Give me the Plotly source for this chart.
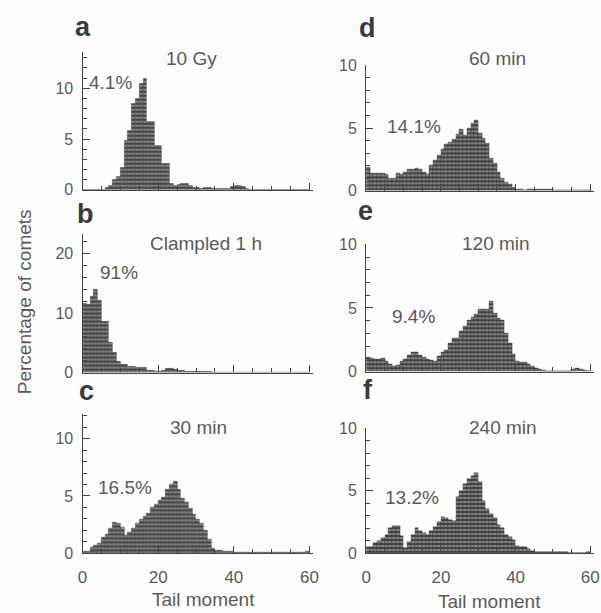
import numpy as np
import plotly.graph_objects as go

W, H = 601, 613

# Bin centres (tail moment, bin width 1)
bins = [i + 0.5 for i in range(60)]

# Percentage of comets per bin
a_10gy = [0, 0, 0, 0, 0, 0, 0.2, 0.4, 1.0, 1.3, 2.2, 4.8, 5.8, 8.5, 9.0, 10.4, 10.9, 6.7, 6.7, 4.3,
          4.3, 2.6, 2.6, 0.6, 0.4, 0.5, 0.6, 0.6, 0.4, 0.2, 0.2, 0.1, 0.2, 0.2, 0.1, 0.1, 0.1, 0.1, 0.1, 0.3,
          0.4, 0.4, 0.3, 0.1, 0, 0, 0, 0, 0, 0, 0, 0, 0, 0, 0, 0, 0, 0, 0, 0]
b_clamped = [11.7, 11.4, 12.8, 13.9, 12.2, 8.6, 8.6, 5.0, 3.3, 1.9, 1.4, 1.4, 1.1, 1.1, 0.9, 0.9, 0.9, 0.4, 0.4, 0.1,
             0.1, 0.3, 0.6, 0.6, 0.5, 0.3, 0.3, 0.2, 0.1, 0.1, 0.1, 0.1, 0.1, 0.1, 0, 0, 0, 0, 0, 0,
             0, 0, 0, 0, 0, 0, 0, 0, 0, 0, 0, 0, 0, 0, 0, 0, 0, 0, 0, 0]
c_30min = [0.15, 0.15, 0.5, 0.7, 0.9, 1.4, 1.7, 2.2, 2.7, 2.6, 2.3, 1.6, 1.8, 2.2, 2.6, 3.0, 3.2, 3.5, 4.0, 4.3,
           4.6, 4.9, 5.6, 6.0, 6.3, 5.6, 4.8, 4.4, 3.9, 3.4, 3.0, 2.6, 2.0, 1.2, 0.4, 0.3, 0.25, 0.2, 0.2, 0.15,
           0.1, 0.05, 0.05, 0.05, 0.05, 0.05, 0.05, 0.05, 0.05, 0.05, 0.05, 0.05, 0.05, 0.05, 0.05, 0.05, 0.05, 0.05, 0.05, 0.2]
d_60min = [1.9, 1.4, 1.4, 1.4, 1.4, 1.3, 1.0, 1.0, 1.4, 1.3, 1.5, 1.7, 1.7, 1.8, 1.7, 1.5, 1.3, 2.0, 2.4, 2.8,
           3.3, 3.7, 3.9, 4.1, 4.5, 4.9, 4.4, 5.0, 5.4, 5.6, 4.6, 4.2, 3.8, 2.6, 2.2, 1.5, 1.0, 0.7, 0.5, 0.25,
           0.15, 0.1, 0.05, 0.1, 0.1, 0.1, 0.1, 0.1, 0.1, 0.1, 0, 0, 0, 0, 0, 0, 0, 0, 0, 0]
e_120min = [1.1, 1.05, 0.95, 1.0, 1.05, 0.8, 0.6, 0.45, 0.5, 0.8, 1.0, 1.3, 1.5, 1.5, 1.3, 1.1, 1.0, 0.9, 0.8, 1.2,
            1.5, 1.7, 2.2, 2.6, 2.6, 3.2, 3.6, 4.0, 4.3, 4.5, 4.9, 4.9, 4.9, 5.5, 4.6, 4.2, 4.0, 3.0, 2.2, 1.4,
            0.8, 0.75, 0.7, 0.55, 0.45, 0.3, 0.2, 0.1, 0.05, 0.05, 0.05, 0, 0, 0, 0, 0.2, 0.3, 0.2, 0.1, 0]
f_240min = [0.55, 0.55, 0.8, 1.0, 1.2, 1.5, 2.0, 2.2, 2.2, 1.4, 0.4, 0.9, 1.5, 2.05, 1.8, 1.6, 1.5, 1.8, 2.1, 2.5,
            2.9, 2.8, 2.7, 2.6, 4.5, 5.0, 5.5, 5.9, 6.2, 6.4, 5.7, 4.2, 3.55, 3.15, 2.8, 2.25, 2.0, 1.5, 1.3, 1.1,
            0.6, 0.55, 0.5, 0.35, 0.2, 0.15, 0.1, 0.1, 0.1, 0.1, 0.15, 0.15, 0.15, 0.15, 0.05, 0.05, 0.05, 0.05, 0.05, 0.1]

letters = ["a", "b", "c", "d", "e", "f"]
titles = ["10 Gy", "Clampled 1 h", "30 min", "60 min", "120 min", "240 min"]
percents = ["4.1%", "91%", "16.5%", "14.1%", "9.4%", "13.2%"]
x_ticks = [0, 20, 40, 60]
x_tick_labels = ["0", "20", "40", "60"]
series = [a_10gy, b_clamped, c_30min, d_60min, e_120min, f_240min]

def fx(px):
    return px / W

def fy(py):
    return 1 - py / H

# panel geometry in pixels: (x0, x1, y_bottom, y_top, ymax, ymajor, yminor)
panels = [
    (79, 314, 187, 45, 13.6, 5, 1),
    (79, 314, 375, 232, 23.4, 10, 2),
    (79, 314, 561, 418, 12.1, 5, 1),
    (368, 600, 188, 59, 10.0, 5, 1),
    (368, 600, 374, 243, 10.0, 5, 1),
    (368, 600, 561, 432, 10.0, 5, 1),
]
letter_pos = [(79, 20), (82, 212), (83, 394), (369, 21), (367, 209), (370, 393)]
title_pos = [(190, 52), (205, 242), (197, 431), (502, 52), (500, 242), (507, 431)]
pct_pos = [(107, 77), (116, 272), (122, 493), (417, 122), (416, 317), (415, 503)]
xtitle_pos = [(202, 608), (494, 610)]

TXT = "#5a5a5a"
AX = "#444444"
FONT = "Liberation Sans, Arial"
fig = go.Figure()
layout = dict(
    width=W, height=H, margin=dict(l=0, r=0, t=0, b=0),
    paper_bgcolor="#fdfdfd", plot_bgcolor="rgba(0,0,0,0)",
    showlegend=False, bargap=0, font=dict(family=FONT, color=TXT, size=14),
)
annotations = []

def note(x, y, text, size, color=TXT, angle=0):
    annotations.append(dict(x=fx(x), y=fy(y), xref="paper", yref="paper", text=text,
                            xanchor="center", yanchor="middle", showarrow=False, textangle=angle,
                            font=dict(size=size, color=color, family=FONT)))

for i, (x0, x1, yb, yt, ymax, ymaj, ymin) in enumerate(panels):
    n = "" if i == 0 else str(i + 1)
    fig.add_trace(go.Bar(
        x=bins, y=series[i], width=1, xaxis="x" + n, yaxis="y" + n,
        marker=dict(color="#454545", line=dict(color="#333333", width=0.4),
                    pattern=dict(shape="-", fgcolor="#e4e4e4", size=4, solidity=0.4)),
        hoverinfo="skip",
    ))
    show_lab = i in (2, 5)
    layout["xaxis" + n] = dict(
        domain=[fx(x0), fx(x1)], range=[0, 61], anchor="y" + n,
        showline=True, linecolor=AX, linewidth=1.3, showgrid=False, zeroline=False,
        tickmode="array", tickvals=x_ticks, ticktext=x_tick_labels,
        ticks="inside", ticklen=7, tickcolor=AX, tickwidth=1.2,
        minor=dict(dtick=5, tick0=0, ticks="inside", ticklen=4, tickcolor=AX, tickwidth=1),
        showticklabels=show_lab, tickfont=dict(size=17, color=TXT), ticklabelstandoff=8,
    )
    layout["yaxis" + n] = dict(
        domain=[fy(yb), fy(yt)], range=[0, ymax], anchor="x" + n,
        showline=True, linecolor=AX, linewidth=1.3, showgrid=False, zeroline=False,
        dtick=ymaj, tick0=0, ticks="inside", ticklen=7, tickcolor=AX, tickwidth=1.2,
        minor=dict(dtick=ymin, tick0=0, ticks="inside", ticklen=4, tickcolor=AX, tickwidth=1),
        tickfont=dict(size=16, color=TXT), ticklabelstandoff=5,
    )
    note(*letter_pos[i], "<b>%s</b>" % letters[i], 27, "#3a3a3a")
    note(*title_pos[i], titles[i], 19)
    note(*pct_pos[i], percents[i], 19)

for (tx, ty) in xtitle_pos:
    note(tx, ty, "Tail moment", 19)
note(20, 302, "Percentage of comets", 19, angle=-90)

layout["annotations"] = annotations
fig.update_layout(**layout)
fig.write_html("out.html", config={"displayModeBar": False},
               post_script="document.body.style.margin='0';document.body.style.overflow='hidden';")
